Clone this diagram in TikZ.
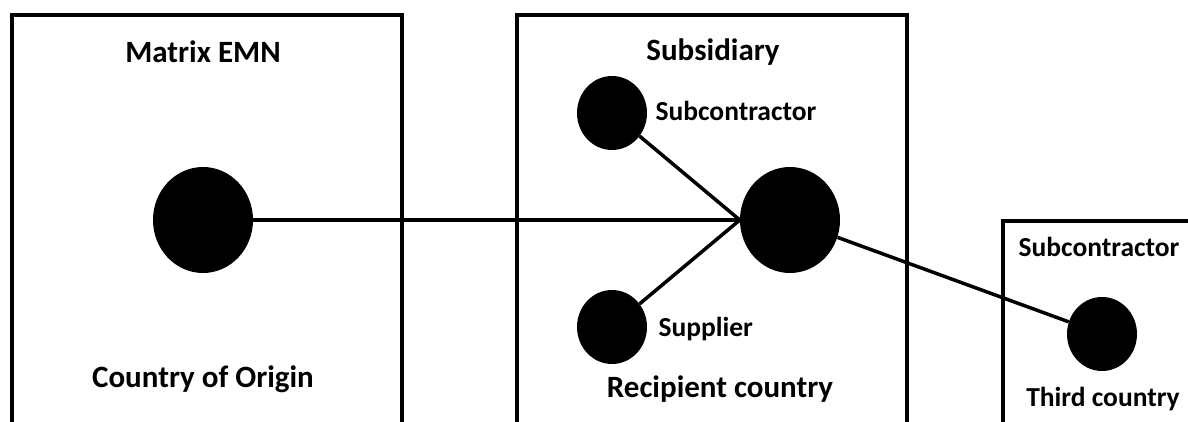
\documentclass[tikz,border=0pt]{standalone}
\usepackage{fontspec}
\setmainfont{Carlito}
\usetikzlibrary{shapes.geometric}

\begin{document}
\begin{tikzpicture}[x=1pt,y=-1pt,
  frame/.style={line width=4pt},
  link/.style={line width=3.5pt},
  bigfirm/.style={ellipse,fill=black,inner sep=0pt,minimum width=100pt,minimum height=106pt},
  firm/.style={ellipse,fill=black,inner sep=0pt,minimum width=70pt,minimum height=74pt},
  title/.style={font=\fontsize{31}{34}\selectfont\bfseries},
  tag/.style={font=\fontsize{27.5}{30}\selectfont\bfseries}]
\useasboundingbox (0,0) rectangle (1188,422);
\clip (0,0) rectangle (1188,422);

% countries
\draw[frame] (12,15) rectangle (402,440);
\draw[frame] (517,15) rectangle (907,440);
\draw[frame] (1003,221) rectangle (1200,440);

% firms
\node[bigfirm] (matrix) at (203,220) {};
\node[bigfirm] (subsid) at (790,220) {};
\node[firm] (subcon) at (612,113) {};
\node[firm] (supplier) at (612,327) {};
\node[firm] (third) at (1102,334) {};

\draw[link] (matrix) -- (subsid.west);
\draw[link] (subcon) -- (subsid.west);
\draw[link] (supplier) -- (subsid.west);
\draw[link] (subsid) -- (third);

\node[title] (emn) at (203,52) {Matrix EMN};
\node[title] (origin) at (203,379) {Country of Origin};
\node[title] (subname) at (713,52) {Subsidiary};
\node[title] (recip) at (720,389) {Recipient country};
\node[tag,anchor=west] (subconname) at (652,111) {Subcontractor};
\node[tag,anchor=west] (suppname) at (655,329) {Supplier};
\node[tag] (thirdname) at (1099,247) {Subcontractor};
\node[tag] (thirdctry) at (1103,399) {Third country};
\end{tikzpicture}
\end{document}
